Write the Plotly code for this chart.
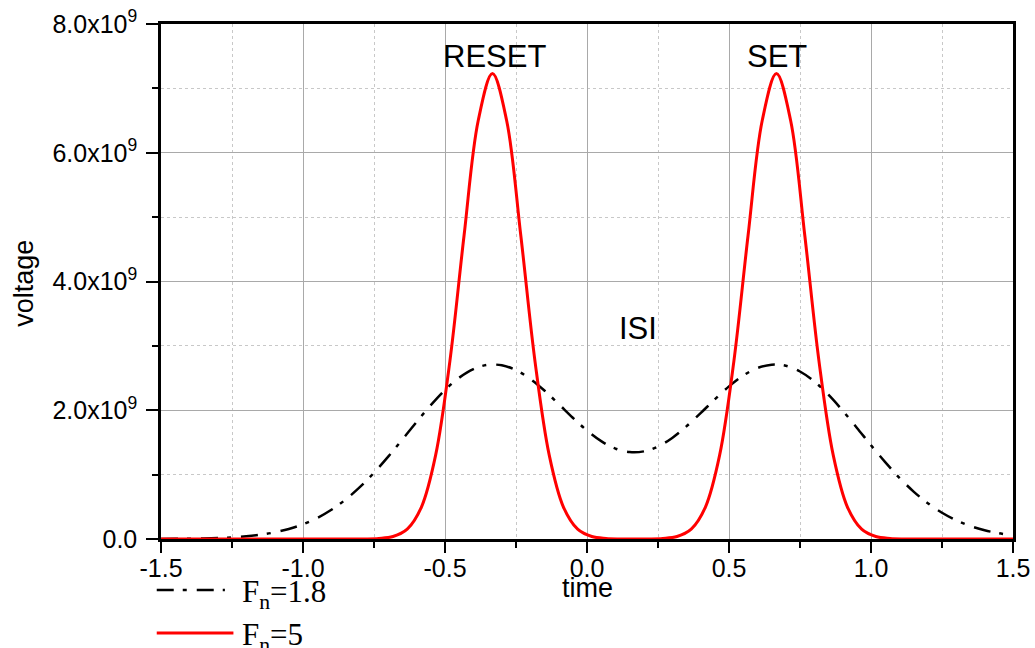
import plotly.graph_objects as go

# time axis samples
time = [-1.50, -1.45, -1.40, -1.35, -1.30, -1.25, -1.20, -1.15, -1.10, -1.05,
        -1.00, -0.95, -0.90, -0.85, -0.80, -0.75, -0.70, -0.65, -0.60, -0.55,
        -0.50, -0.45, -0.40, -0.35, -0.30, -0.25, -0.20, -0.15, -0.10, -0.05,
        0.00, 0.05, 0.10, 0.15, 0.20, 0.25, 0.30, 0.35, 0.40, 0.45,
        0.50, 0.55, 0.60, 0.65, 0.70, 0.75, 0.80, 0.85, 0.90, 0.95,
        1.00, 1.05, 1.10, 1.15, 1.20, 1.25, 1.30, 1.35, 1.40, 1.45, 1.50]

# F_n = 1.8 (x1e9)
volt_fn18 = [0.001, 0.003, 0.005, 0.009, 0.015, 0.025, 0.042, 0.066, 0.103, 0.156,
             0.229, 0.326, 0.454, 0.613, 0.805, 1.029, 1.279, 1.547, 1.819, 2.080,
             2.315, 2.506, 2.639, 2.705, 2.698, 2.623, 2.488, 2.307, 2.098, 1.884,
             1.685, 1.520, 1.405, 1.350, 1.361, 1.437, 1.570, 1.749, 1.955, 2.169,
             2.371, 2.539, 2.655, 2.708, 2.691, 2.602, 2.448, 2.241, 1.995, 1.729,
             1.456, 1.194, 0.951, 0.737, 0.556, 0.408, 0.291, 0.202, 0.136, 0.089, 0.057]

# F_n = 5 (x1e9), sampled around the two pulses
time_fn5 = [-1.500, -1.000,
            -0.833, -0.783, -0.733, -0.683, -0.633, -0.583, -0.533, -0.483, -0.433, -0.383,
            -0.333, -0.283, -0.233, -0.183, -0.133, -0.083, -0.033, 0.017, 0.067, 0.117,
            0.167, 0.217, 0.267, 0.317, 0.367, 0.417, 0.467, 0.517, 0.567, 0.617,
            0.667, 0.717, 0.767, 0.817, 0.867, 0.917, 0.967, 1.017, 1.067, 1.117,
            1.167, 1.500]
volt_fn5 = [0.0, 0.0,
            0.0, 0.001, 0.008, 0.038, 0.153, 0.496, 1.302, 2.756, 4.71, 6.50,
            7.23, 6.50, 4.71, 2.756, 1.302, 0.496, 0.153, 0.038, 0.008, 0.001,
            0.0, 0.001, 0.008, 0.038, 0.153, 0.496, 1.302, 2.756, 4.71, 6.50,
            7.23, 6.50, 4.71, 2.756, 1.302, 0.496, 0.153, 0.038, 0.008, 0.001,
            0.0, 0.0]

x_ticks = [-1.5, -1.0, -0.5, 0.0, 0.5, 1.0, 1.5]
x_ticktext = ["-1.5", "-1.0", "-0.5", "0.0", "0.5", "1.0", "1.5"]
y_ticks = [0, 2e9, 4e9, 6e9, 8e9]
y_ticktext = ["0.0", "2.0x10<sup>9</sup>", "4.0x10<sup>9</sup>",
              "6.0x10<sup>9</sup>", "8.0x10<sup>9</sup>"]

DASHDOT = "17px,9px,4px,10px"
SANS = "Liberation Sans, Arial, sans-serif"
SERIF = "Liberation Serif, Times New Roman, serif"

fig = go.Figure()
fig.add_trace(go.Scatter(x=time, y=[v * 1e9 for v in volt_fn18], mode="lines",
                         name="F<sub>n</sub>=1.8",
                         line=dict(color="black", width=2.5, dash=DASHDOT, shape="spline")))
fig.add_trace(go.Scatter(x=time_fn5, y=[v * 1e9 for v in volt_fn5], mode="lines",
                         name="F<sub>n</sub>=5",
                         line=dict(color="#ff0000", width=3, shape="spline")))

axis_common = dict(
    showline=True, linecolor="black", linewidth=2.5, mirror=True,
    ticks="outside", tickcolor="black", tickwidth=2,
    showgrid=True, gridcolor="#a9a9a9", gridwidth=1.3,
    zeroline=False, layer="below traces", automargin=False,
    tickfont=dict(family=SANS, size=25, color="black"),
)

fig.update_xaxes(
    range=[-1.5, 1.5], tickvals=x_ticks, ticktext=x_ticktext, ticklen=11,
    ticklabelstandoff=-6,
    minor=dict(dtick=0.25, tick0=-1.5, ticks="outside", ticklen=6, tickwidth=2,
               tickcolor="black", showgrid=True, gridcolor="#c8c8c8",
               griddash="dot", gridwidth=1),
    **axis_common,
)
fig.update_yaxes(
    range=[0, 8e9], tickvals=y_ticks, ticktext=y_ticktext, ticklen=12,
    ticklabelstandoff=4,
    minor=dict(dtick=1e9, tick0=0, ticks="outside", ticklen=6, tickwidth=2,
               tickcolor="black", showgrid=True, gridcolor="#c8c8c8",
               griddash="dot", gridwidth=1),
    **axis_common,
)

# axis titles
fig.add_annotation(xref="paper", yref="paper", x=0.5, y=-0.095, text="time",
                   showarrow=False, xanchor="center", yanchor="middle",
                   font=dict(family=SANS, size=27, color="black"))
fig.add_annotation(xref="paper", yref="paper", x=-0.161, y=0.497, text="voltage",
                   showarrow=False, textangle=-90, xanchor="center", yanchor="middle",
                   font=dict(family=SANS, size=27, color="black"))

for txt, x, y in [("RESET", -0.325, 7.5e9), ("SET", 0.67, 7.5e9), ("ISI", 0.178, 3.27e9)]:
    fig.add_annotation(x=x, y=y, text=txt, showarrow=False,
                       font=dict(family=SANS, size=31, color="black"))

# legend drawn below the axes
legend_rows = [("F<sub>n</sub>=1.8", "black", 2.5, DASHDOT, -0.099, 0.075),
               ("F<sub>n</sub>=5", "#ff0000", 3, "solid", -0.1825, 0.085)]
for txt, col, w, dash, yy, x1 in legend_rows:
    fig.add_shape(type="line", xref="paper", yref="paper", x0=-0.005, x1=x1, y0=yy, y1=yy,
                  line=dict(color=col, width=w, dash=dash))
    fig.add_annotation(xref="paper", yref="paper", x=0.093, y=yy - 0.008, text=txt,
                       showarrow=False, xanchor="left", yanchor="middle",
                       font=dict(family=SERIF, size=31, color="black"))

fig.update_layout(
    width=1035, height=648,
    margin=dict(l=161, r=22, t=24, b=109),
    paper_bgcolor="white", plot_bgcolor="white",
    showlegend=False,
)

fig.write_html("out.html", config={"displayModeBar": False},
               post_script="document.body.style.margin='0';")
